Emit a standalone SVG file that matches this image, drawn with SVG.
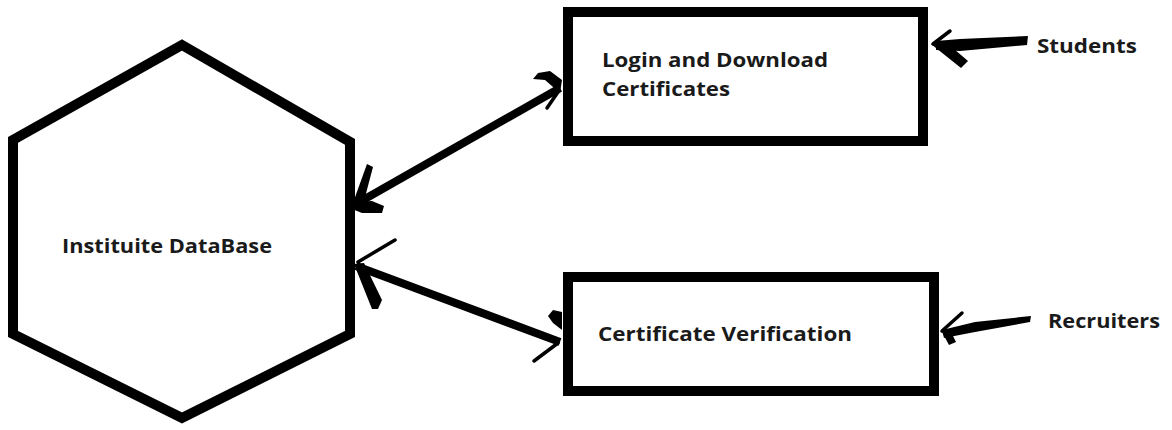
<svg xmlns="http://www.w3.org/2000/svg" width="1172" height="430" viewBox="0 0 1172 430">
<style>
.shape{fill:#fff;stroke:#000;stroke-width:10;stroke-linejoin:miter}
.lbl{font-family:"Open Sans","Liberation Sans",sans-serif;font-weight:700;font-size:20px;fill:#1a1a1a}
.ln{stroke:#000;stroke-width:8;fill:none;stroke-linecap:butt}
.thin{stroke:#000;stroke-width:3.5;fill:none;stroke-linecap:round}
.blob{fill:#000;stroke:none}
</style>
<rect width="1172" height="430" fill="#fff"/>
<g id="node-database">
<polygon class="shape" points="182,45 350,142 350,334 182,418 13,334 13,140"/>
<text class="lbl" x="62" y="253" textLength="210" lengthAdjust="spacingAndGlyphs">Instituite DataBase</text>
</g>
<g id="node-login">
<rect class="shape" x="568" y="12" width="355" height="129"/>
<text class="lbl" x="602" y="67" textLength="226" lengthAdjust="spacingAndGlyphs">Login and Download</text>
<text class="lbl" x="602" y="96" textLength="128" lengthAdjust="spacingAndGlyphs">Certificates</text>
</g>
<g id="node-verification">
<rect class="shape" x="568" y="277" width="366" height="114"/>
<text class="lbl" x="598" y="341" textLength="254" lengthAdjust="spacingAndGlyphs">Certificate Verification</text>
</g>
<g id="label-students">
<text class="lbl" x="1037" y="53" textLength="100" lengthAdjust="spacingAndGlyphs">Students</text>
</g>
<g id="label-recruiters">
<text class="lbl" x="1048" y="328" textLength="112" lengthAdjust="spacingAndGlyphs">Recruiters</text>
</g>
<g id="connectors">
<line class="ln" x1="356" y1="204" x2="560" y2="88"/>
<polygon class="blob" points="354,200 367,164 373,167 364,201"/>
<polygon class="blob" points="350,202 372,201 384,206 382,213 362,213 352,209"/>
<polygon class="blob" points="562,80 550,71 538,73 533,79 545,80 560,93"/>
<line class="thin" x1="558" y1="92" x2="547" y2="108"/>
<line class="ln" x1="356" y1="266" x2="560" y2="342"/>
<line class="thin" x1="358" y1="262" x2="395" y2="240"/>
<polygon class="blob" points="354,264 364,263 382,300 378,309 372,309"/>
<polygon class="blob" points="562,312 553,310 548,316 553,323 562,330"/>
<line class="thin" x1="558" y1="343" x2="534" y2="361"/>
<polygon class="blob" points="1028,36 1027,45 960,51 936,50 936,41 960,39"/>
<line class="thin" x1="933" y1="44" x2="950" y2="31"/>
<polygon class="blob" points="931,44 947,43 968,61 961,68"/>
<polygon class="blob" points="1031,316 1030,322 975,332 944,338 942,330 975,322"/>
<line class="thin" x1="942" y1="331" x2="962" y2="313"/>
<polygon class="blob" points="941,330 951,332 956,342 949,345"/>
</g>
</svg>
